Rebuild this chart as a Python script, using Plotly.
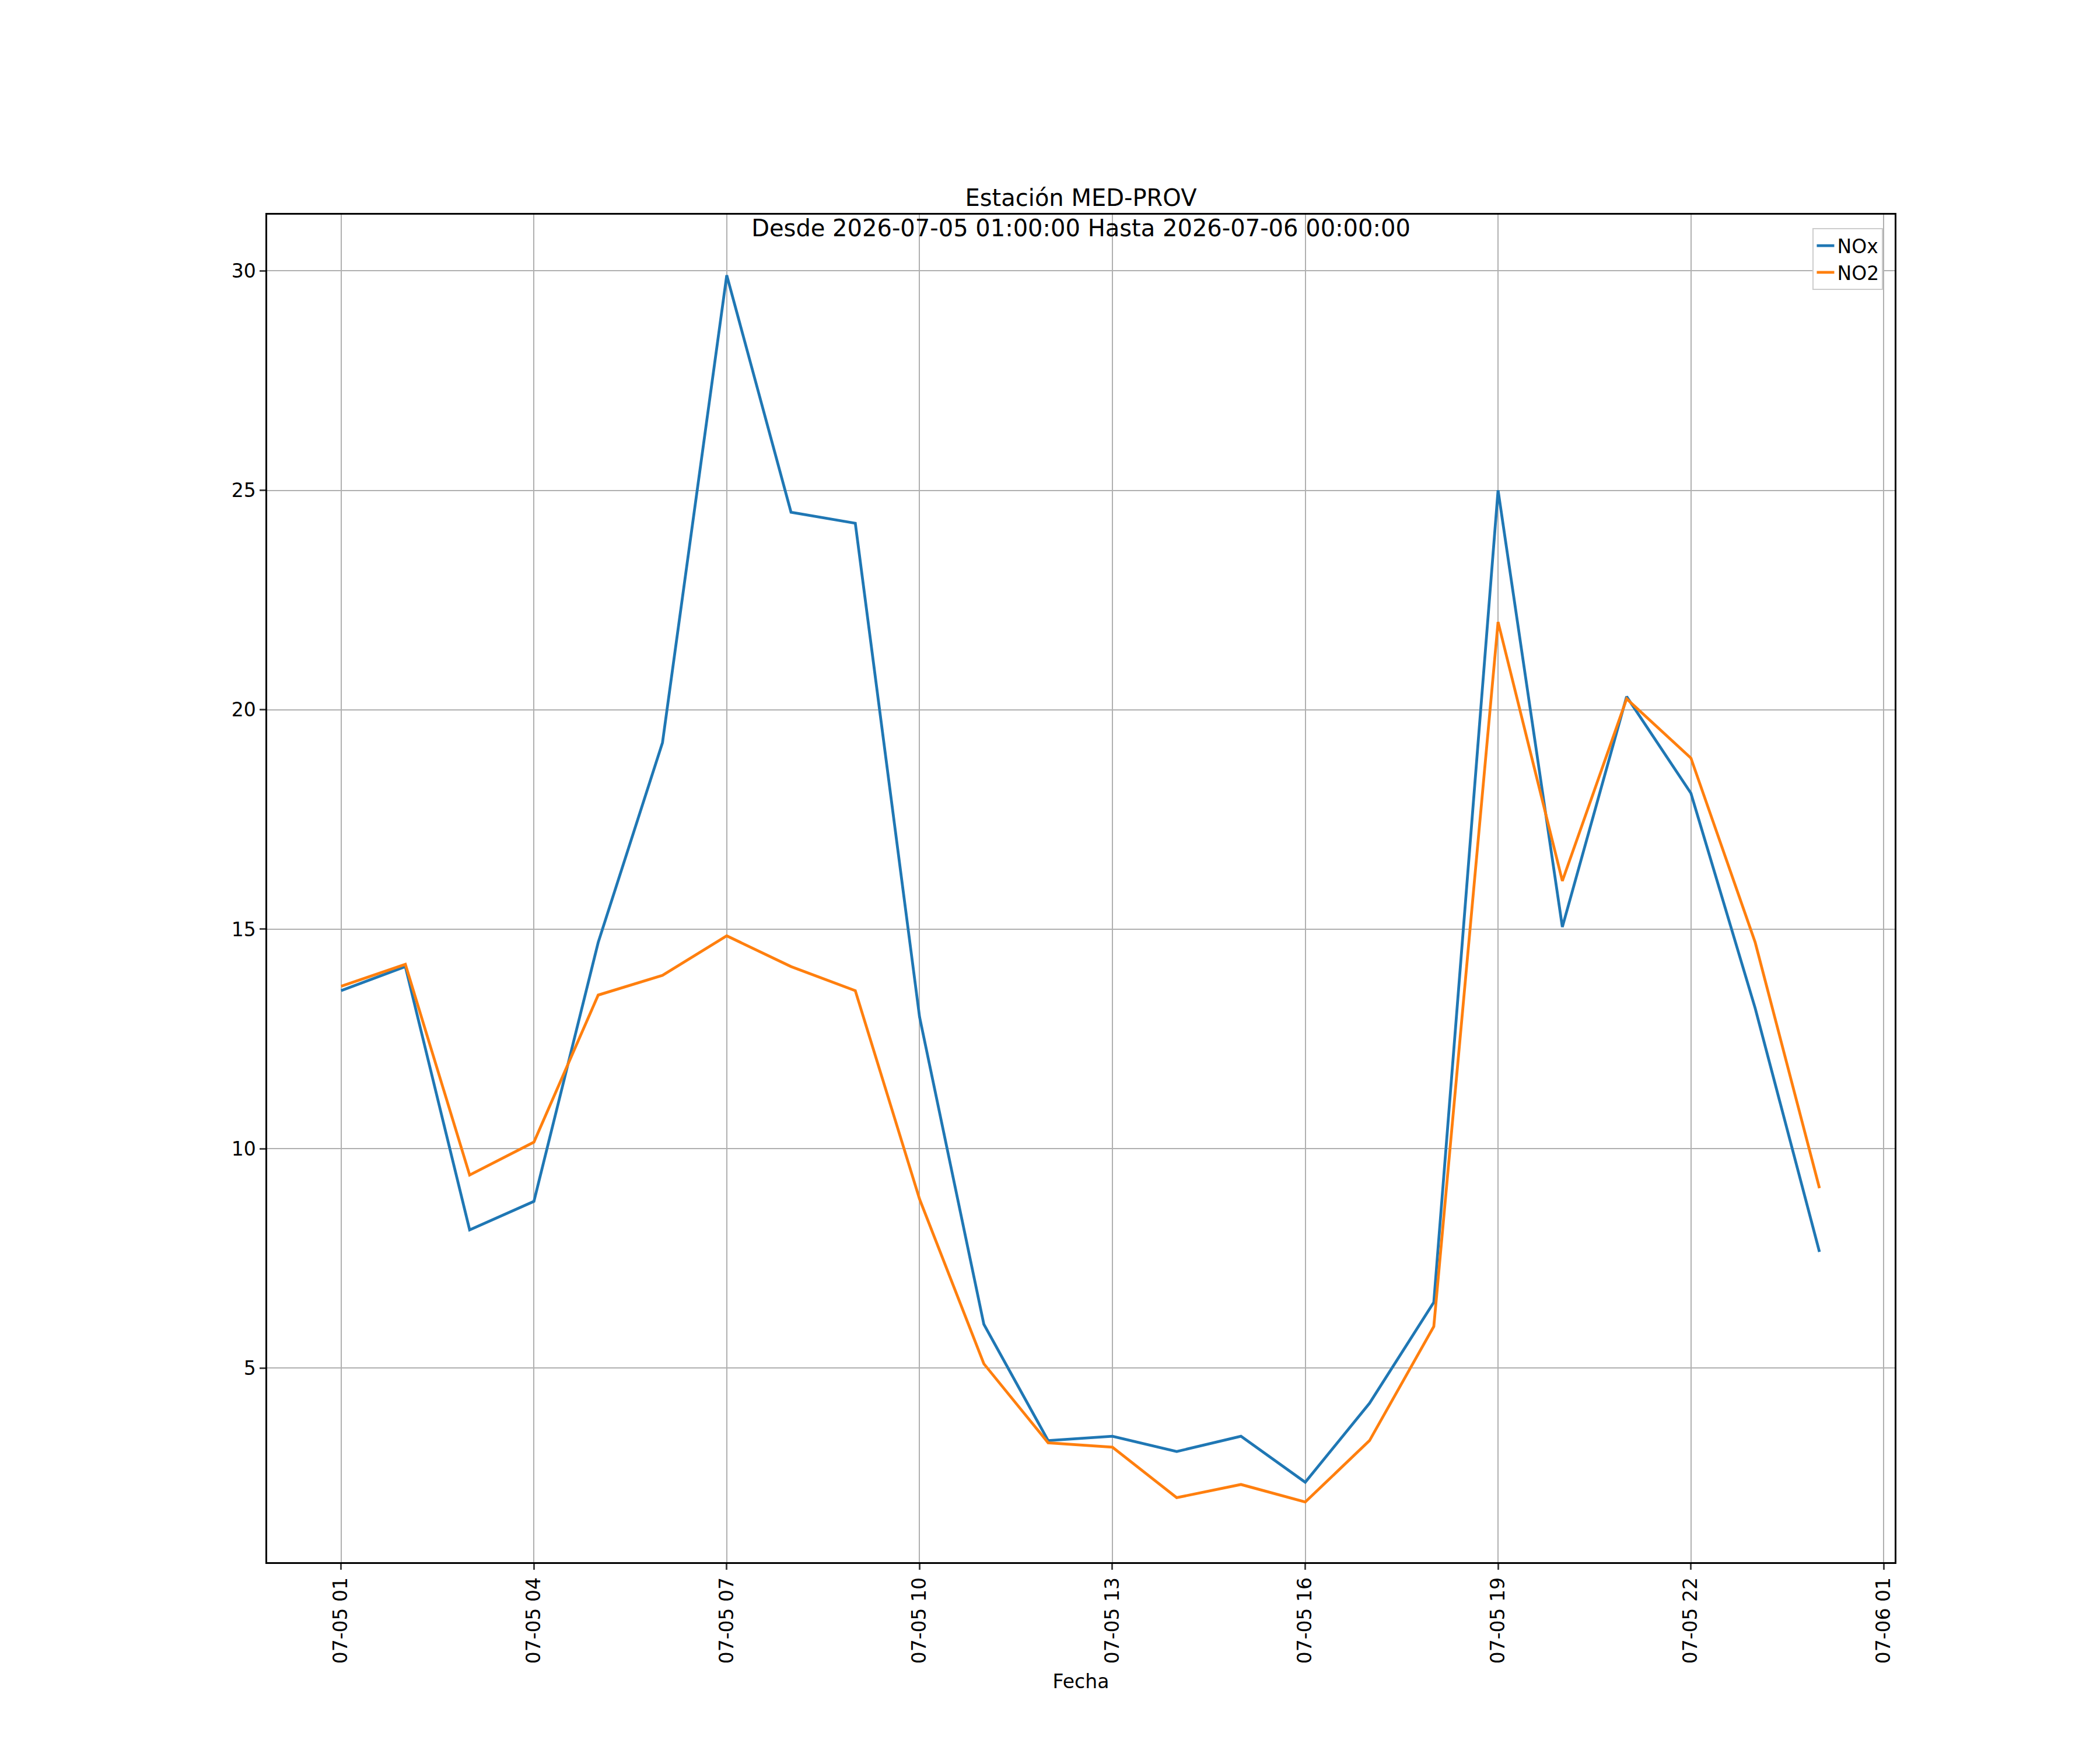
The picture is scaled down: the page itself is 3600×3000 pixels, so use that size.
import plotly.graph_objects as go
import pandas as pd

times = pd.date_range("2026-07-05 01:00", "2026-07-06 00:00", freq="h")
nox = [13.6, 14.15, 8.15, 8.8, 14.7, 19.25, 29.9, 24.5, 24.25, 13.0, 6.0, 3.35,
       3.45, 3.1, 3.45, 2.4, 4.2, 6.5, 25.0, 15.05, 20.3, 18.1, 13.2, 7.65]
no2 = [13.7, 14.2, 9.4, 10.15, 13.5, 13.95, 14.85, 14.15, 13.6, 8.85, 5.1, 3.3,
       3.2, 2.05, 2.35, 1.95, 3.35, 5.95, 22.0, 16.1, 20.25, 18.9, 14.7, 9.1]
tickvals = pd.date_range("2026-07-05 01:00", "2026-07-06 01:00", freq="3h")

fig = go.Figure()
fig.add_trace(go.Scatter(x=times, y=nox, name="NOx", mode="lines", line=dict(color="#1f77b4", width=4.8)))
fig.add_trace(go.Scatter(x=times, y=no2, name="NO2", mode="lines", line=dict(color="#ff7f0e", width=4.8)))

ax = dict(showgrid=True, gridcolor="#b0b0b0", gridwidth=2, showline=True, linecolor="black", linewidth=2.5,
          mirror=True, ticks="outside", ticklen=10, tickwidth=2.5, zeroline=False,
          tickfont=dict(size=33, color="black"))
fig.update_xaxes(**ax, range=[pd.Timestamp("2026-07-05 01:00") - pd.Timedelta(hours=1.15),
                              pd.Timestamp("2026-07-05 01:00") + pd.Timedelta(hours=24.17)],
                 tickvals=tickvals, ticktext=[t.strftime("%m-%d %H") for t in tickvals], tickangle=-90,
                 title=dict(text="Fecha", font=dict(size=33, color="black"), standoff=20))
fig.update_yaxes(**ax, range=[0.58, 31.28], tickvals=[5, 10, 15, 20, 25, 30])
fig.update_layout(
    width=3600, height=3000, plot_bgcolor="white", paper_bgcolor="white",
    font=dict(family="DejaVu Sans", color="black"),
    margin=dict(l=450, r=360, t=360, b=330),
    title=dict(text="Estación MED-PROV<br>Desde 2026-07-05 01:00:00 Hasta 2026-07-06 00:00:00",
               x=0.5, xanchor="center", xref="paper", yref="container", y=0.885, yanchor="bottom",
               font=dict(size=40, color="black")),
    legend=dict(x=0.993, y=0.99, xanchor="right", yanchor="top", bgcolor="white", bordercolor="#cccccc",
                borderwidth=2, font=dict(size=33)),
)
fig.write_html("out.html")
